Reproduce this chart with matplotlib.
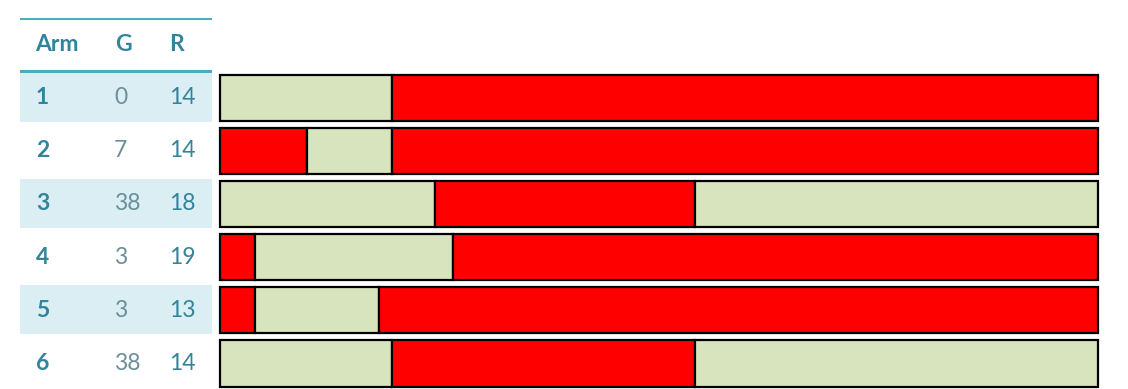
import matplotlib.pyplot as plt

# Table data
arms = ["1", "2", "3", "4", "5", "6"]
g_vals = ["0", "7", "38", "3", "3", "38"]
r_vals = ["14", "14", "18", "19", "13", "14"]

# Segment sequences per arm (percent of bar width)
seg_colors = [
    ["G", "R"],
    ["R", "G", "R"],
    ["G", "R", "G"],
    ["R", "G", "R"],
    ["R", "G", "R"],
    ["G", "R", "G"],
]
seg_widths = [
    [19.6, 80.4],
    [9.9, 9.7, 80.4],
    [24.5, 29.6, 45.9],
    [4.0, 22.5, 73.5],
    [4.0, 14.1, 81.9],
    [19.6, 34.5, 45.9],
]

color_map = {"G": "#D7E4BD", "R": "#FF0000"}
teal = "#31849B"
line_teal = "#4BACC6"
band = "#DAEEF3"

plt.rcParams["font.family"] = ["Lato", "DejaVu Sans"]

W, H = 1128, 389
fig = plt.figure(figsize=(W / 100, H / 100), dpi=100)

# vertical mapping: row index -1.5 at 18px, 5.5 at 390px
top_px, bot_px = 18, 390
ax_bottom = (H - bot_px) / H
ax_height = (bot_px - top_px) / H

# --- table ---
tx0, tx1 = 20, 212
tab = fig.add_axes([tx0 / W, ax_bottom, (tx1 - tx0) / W, ax_height])
tab.set_xlim(tx0, tx1)
tab.set_ylim(5.5, -1.5)
tab.axis("off")

for i in range(len(arms)):
    if i % 2 == 0:
        tab.axhspan(i - 0.47, i + 0.45, color=band, lw=0)
tab.axhline(-1.5, color=line_teal, lw=2.2)
tab.axhline(-0.5, color=line_teal, lw=2.2)

fs = 16.5
hdr_kw = dict(color=teal, fontsize=fs, fontweight="bold", va="center", ha="left")
tab.text(35, -1, "Arm", **hdr_kw)
tab.text(115, -1, "G", **hdr_kw)
tab.text(169, -1, "R", **hdr_kw)
for i, (a, g, r) in enumerate(zip(arms, g_vals, r_vals)):
    tab.text(36, i, a, color=teal, fontsize=fs, fontweight="bold", va="center", ha="left")
    tab.text(114, i, g, color="#6A8F98", fontsize=fs, va="center", ha="left")
    tab.text(169, i, r, color=teal, fontsize=fs, va="center", ha="left")

# --- bars ---
bx0, bx1 = 220, 1098
ax = fig.add_axes([bx0 / W, ax_bottom, (bx1 - bx0) / W, ax_height])
ax.set_xlim(0, 100)
ax.set_ylim(5.5, -1.5)
ax.axis("off")

for i, (cols, widths) in enumerate(zip(seg_colors, seg_widths)):
    left = 0
    for c, w in zip(cols, widths):
        ax.barh(i, w, left=left, height=0.87, color=color_map[c],
                edgecolor="black", linewidth=1.6, clip_on=False)
        left += w

fig.savefig("out.png", dpi=100)
